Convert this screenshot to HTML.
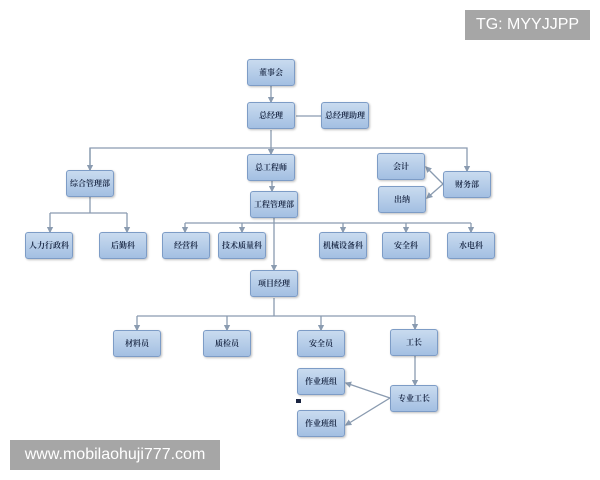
<!DOCTYPE html>
<html><head><meta charset="utf-8"><style>
body{margin:0;width:600px;height:480px;background:#fff;position:relative;overflow:hidden;font-family:"Liberation Serif","Noto Serif CJK SC",serif}
.b{position:absolute;width:48px;height:27px;box-sizing:border-box;border:1px solid #7d9cc6;border-radius:3px;background:linear-gradient(#c9dbef,#a3bfe2);box-shadow:1px 1px 2px rgba(0,0,0,.25);font-size:8px;font-weight:bold;color:#1f2d4a;display:flex;align-items:center;justify-content:center;white-space:nowrap}
.wm{position:absolute;background:#a6a6a6;color:#fff;font-family:"Liberation Sans",sans-serif;font-size:16px;display:flex;align-items:center;justify-content:center}
svg{position:absolute;left:0;top:0}
</style></head><body>
<svg width="600" height="480" stroke="#8a9bb0" stroke-width="1.3" fill="none">
<defs><marker id="a" markerWidth="5" markerHeight="5" refX="4" refY="2.5" orient="auto"><path d="M0,0L5,2.5L0,5z" fill="#8a9bb0" stroke="none"/></marker></defs>
<line x1="271" y1="86" x2="271" y2="102" marker-end="url(#a)"/>
<line x1="296" y1="116" x2="321" y2="116"/>
<line x1="271" y1="130" x2="271" y2="154" marker-end="url(#a)"/>
<polyline points="90,170 90,148 467,148 467,171" marker-end="url(#a)"/>
<line x1="90" y1="148" x2="90" y2="170" marker-end="url(#a)"/>
<line x1="272" y1="181" x2="272" y2="191" marker-end="url(#a)"/>
<line x1="443" y1="184" x2="426" y2="167" marker-end="url(#a)"/>
<line x1="443" y1="184" x2="427" y2="198" marker-end="url(#a)"/>
<polyline points="90,197 90,213"/>
<line x1="50" y1="213" x2="127" y2="213"/>
<line x1="50" y1="213" x2="50" y2="232" marker-end="url(#a)"/>
<line x1="127" y1="213" x2="127" y2="232" marker-end="url(#a)"/>
<line x1="185" y1="223" x2="471" y2="223"/>
<line x1="185" y1="223" x2="185" y2="232" marker-end="url(#a)"/>
<line x1="242" y1="223" x2="242" y2="232" marker-end="url(#a)"/>
<line x1="343" y1="223" x2="343" y2="232" marker-end="url(#a)"/>
<line x1="406" y1="223" x2="406" y2="232" marker-end="url(#a)"/>
<line x1="471" y1="223" x2="471" y2="232" marker-end="url(#a)"/>
<line x1="274" y1="218" x2="274" y2="270" marker-end="url(#a)"/>
<line x1="274" y1="298" x2="274" y2="316"/>
<line x1="137" y1="316" x2="415" y2="316"/>
<line x1="137" y1="316" x2="137" y2="330" marker-end="url(#a)"/>
<line x1="227" y1="316" x2="227" y2="330" marker-end="url(#a)"/>
<line x1="321" y1="316" x2="321" y2="330" marker-end="url(#a)"/>
<line x1="415" y1="316" x2="415" y2="329" marker-end="url(#a)"/>
<line x1="415" y1="356" x2="415" y2="385" marker-end="url(#a)"/>
<line x1="390" y1="398" x2="346" y2="383" marker-end="url(#a)"/>
<line x1="390" y1="398" x2="346" y2="425" marker-end="url(#a)"/>
<rect x="296" y="399" width="5" height="4" fill="#1a2440" stroke="none"/>
</svg>
<div class="b" style="left:247px;top:59px">董事会</div>
<div class="b" style="left:247px;top:102px">总经理</div>
<div class="b" style="left:321px;top:102px">总经理助理</div>
<div class="b" style="left:247px;top:154px">总工程师</div>
<div class="b" style="left:66px;top:170px">综合管理部</div>
<div class="b" style="left:250px;top:191px">工程管理部</div>
<div class="b" style="left:377px;top:153px">会计</div>
<div class="b" style="left:378px;top:186px">出纳</div>
<div class="b" style="left:443px;top:171px">财务部</div>
<div class="b" style="left:25px;top:232px">人力行政科</div>
<div class="b" style="left:99px;top:232px">后勤科</div>
<div class="b" style="left:162px;top:232px">经营科</div>
<div class="b" style="left:218px;top:232px">技术质量科</div>
<div class="b" style="left:319px;top:232px">机械设备科</div>
<div class="b" style="left:382px;top:232px">安全科</div>
<div class="b" style="left:447px;top:232px">水电科</div>
<div class="b" style="left:250px;top:270px">项目经理</div>
<div class="b" style="left:113px;top:330px">材料员</div>
<div class="b" style="left:203px;top:330px">质检员</div>
<div class="b" style="left:297px;top:330px">安全员</div>
<div class="b" style="left:390px;top:329px">工长</div>
<div class="b" style="left:297px;top:368px">作业班组</div>
<div class="b" style="left:390px;top:385px">专业工长</div>
<div class="b" style="left:297px;top:410px">作业班组</div>
<div class="wm" style="left:465px;top:10px;width:125px;height:30px">TG: MYYJJPP</div>
<div class="wm" style="left:10px;top:440px;width:210px;height:30px">www.mobilaohuji777.com</div>
</body></html>
